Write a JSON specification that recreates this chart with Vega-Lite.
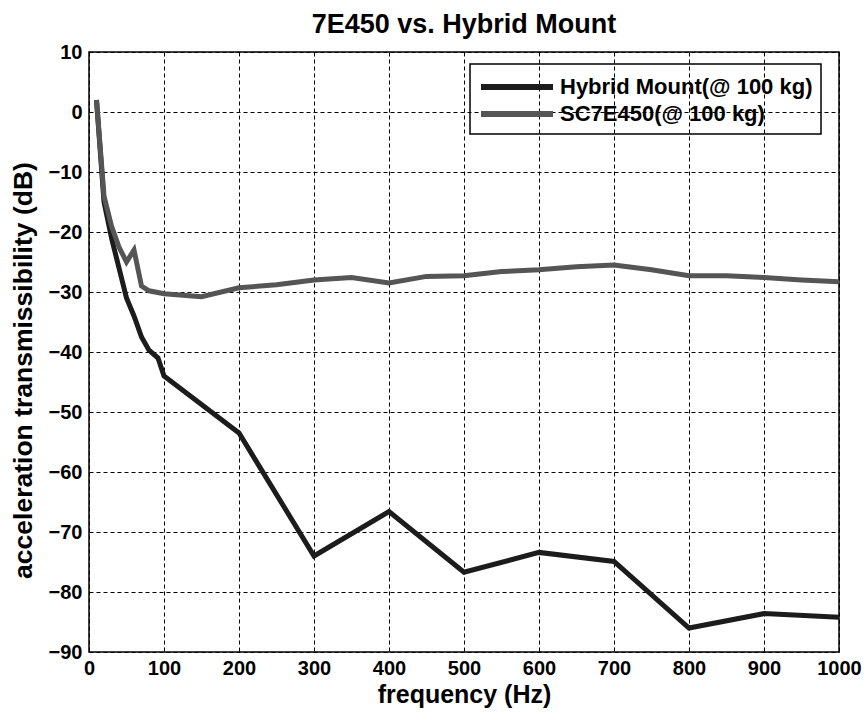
{
  "$schema": "https://vega.github.io/schema/vega-lite/v6.json",
  "autosize": {"type": "none"},
  "padding": {"left": 89, "top": 52, "right": 28, "bottom": 62},
  "width": 750,
  "height": 600,
  "background": "white",
  "title": {"text": "7E450 vs. Hybrid Mount", "fontSize": 27, "font": "Liberation Sans", "fontWeight": "bold", "color": "black", "offset": 3},
  "config": {
    "view": {"stroke": "black", "strokeWidth": 1.5},
    "font": "Liberation Sans",
    "axis": {
      "grid": true, "gridColor": "black", "gridDash": [4, 3], "gridOpacity": 1, "gridWidth": 1,
      "domain": false, "ticks": false,
      "labelFont": "Liberation Sans", "labelFontSize": 20, "labelFontWeight": "bold", "labelColor": "black",
      "titleFont": "Liberation Sans", "titleFontSize": 25, "titleFontWeight": "bold", "titleColor": "black"
    },
    "legend": {
      "orient": "none", "legendX": 381, "legendY": 12,
      "strokeColor": "black", "strokeWidth": 1.5, "padding": 8, "rowPadding": -5,
      "symbolType": "M-1,0H5", "symbolSize": 576, "symbolStrokeWidth": 6, "symbolFillColor": "transparent",
      "labelFont": "Liberation Sans", "labelFontSize": 22, "labelFontWeight": "bold", "labelColor": "black", "labelOffset": 52, "labelLimit": 400,
      "title": null
    }
  },
  "data": {"values": [
    {"f": 10, "v": 2, "s": "Hybrid Mount(@ 100 kg)"},
    {"f": 20, "v": -15, "s": "Hybrid Mount(@ 100 kg)"},
    {"f": 30, "v": -21, "s": "Hybrid Mount(@ 100 kg)"},
    {"f": 40, "v": -26, "s": "Hybrid Mount(@ 100 kg)"},
    {"f": 50, "v": -31, "s": "Hybrid Mount(@ 100 kg)"},
    {"f": 60, "v": -34, "s": "Hybrid Mount(@ 100 kg)"},
    {"f": 70, "v": -37.5, "s": "Hybrid Mount(@ 100 kg)"},
    {"f": 80, "v": -39.7, "s": "Hybrid Mount(@ 100 kg)"},
    {"f": 92, "v": -41, "s": "Hybrid Mount(@ 100 kg)"},
    {"f": 100, "v": -44, "s": "Hybrid Mount(@ 100 kg)"},
    {"f": 200, "v": -53.5, "s": "Hybrid Mount(@ 100 kg)"},
    {"f": 300, "v": -74, "s": "Hybrid Mount(@ 100 kg)"},
    {"f": 400, "v": -66.6, "s": "Hybrid Mount(@ 100 kg)"},
    {"f": 500, "v": -76.7, "s": "Hybrid Mount(@ 100 kg)"},
    {"f": 600, "v": -73.4, "s": "Hybrid Mount(@ 100 kg)"},
    {"f": 700, "v": -74.9, "s": "Hybrid Mount(@ 100 kg)"},
    {"f": 800, "v": -86, "s": "Hybrid Mount(@ 100 kg)"},
    {"f": 900, "v": -83.6, "s": "Hybrid Mount(@ 100 kg)"},
    {"f": 1000, "v": -84.2, "s": "Hybrid Mount(@ 100 kg)"},
    {"f": 10, "v": 2, "s": "SC7E450(@ 100 kg)"},
    {"f": 20, "v": -14, "s": "SC7E450(@ 100 kg)"},
    {"f": 30, "v": -19, "s": "SC7E450(@ 100 kg)"},
    {"f": 40, "v": -22.5, "s": "SC7E450(@ 100 kg)"},
    {"f": 50, "v": -25, "s": "SC7E450(@ 100 kg)"},
    {"f": 60, "v": -23, "s": "SC7E450(@ 100 kg)"},
    {"f": 70, "v": -29, "s": "SC7E450(@ 100 kg)"},
    {"f": 80, "v": -29.8, "s": "SC7E450(@ 100 kg)"},
    {"f": 100, "v": -30.3, "s": "SC7E450(@ 100 kg)"},
    {"f": 150, "v": -30.8, "s": "SC7E450(@ 100 kg)"},
    {"f": 200, "v": -29.3, "s": "SC7E450(@ 100 kg)"},
    {"f": 250, "v": -28.8, "s": "SC7E450(@ 100 kg)"},
    {"f": 300, "v": -28, "s": "SC7E450(@ 100 kg)"},
    {"f": 350, "v": -27.6, "s": "SC7E450(@ 100 kg)"},
    {"f": 400, "v": -28.5, "s": "SC7E450(@ 100 kg)"},
    {"f": 450, "v": -27.4, "s": "SC7E450(@ 100 kg)"},
    {"f": 500, "v": -27.3, "s": "SC7E450(@ 100 kg)"},
    {"f": 550, "v": -26.6, "s": "SC7E450(@ 100 kg)"},
    {"f": 600, "v": -26.3, "s": "SC7E450(@ 100 kg)"},
    {"f": 650, "v": -25.8, "s": "SC7E450(@ 100 kg)"},
    {"f": 700, "v": -25.5, "s": "SC7E450(@ 100 kg)"},
    {"f": 750, "v": -26.3, "s": "SC7E450(@ 100 kg)"},
    {"f": 800, "v": -27.3, "s": "SC7E450(@ 100 kg)"},
    {"f": 850, "v": -27.3, "s": "SC7E450(@ 100 kg)"},
    {"f": 900, "v": -27.6, "s": "SC7E450(@ 100 kg)"},
    {"f": 950, "v": -28, "s": "SC7E450(@ 100 kg)"},
    {"f": 1000, "v": -28.3, "s": "SC7E450(@ 100 kg)"}
  ]},
  "mark": {"type": "line", "strokeWidth": 5, "strokeJoin": "miter", "clip": true},
  "encoding": {
    "x": {"field": "f", "type": "quantitative", "title": "frequency (Hz)",
      "scale": {"domain": [0, 1000], "nice": false},
      "axis": {"values": [0, 100, 200, 300, 400, 500, 600, 700, 800, 900, 1000], "format": "d", "labelPadding": 6, "titlePadding": 4, "labelFlush": false}},
    "y": {"field": "v", "type": "quantitative", "title": "acceleration transmissibility (dB)",
      "scale": {"domain": [-90, 10], "nice": false, "zero": false},
      "axis": {"values": [-90, -80, -70, -60, -50, -40, -30, -20, -10, 0, 10], "labelPadding": 7, "titlePadding": 11, "titleY": 318, "titleFontSize": 26.5, "labelFlush": false}},
    "color": {"field": "s", "type": "nominal",
      "scale": {"domain": ["Hybrid Mount(@ 100 kg)", "SC7E450(@ 100 kg)"], "range": ["#1c1c1c", "#555555"]}},
    "order": {"field": "f", "type": "quantitative"}
  }
}
